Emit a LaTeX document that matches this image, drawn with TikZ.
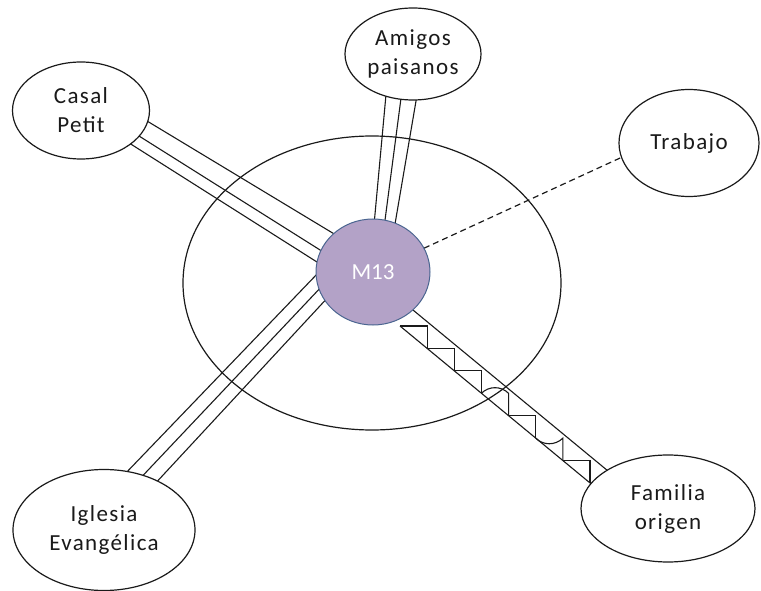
\documentclass[tikz,border=0pt]{standalone}
\usepackage{fontspec}
\setmainfont[LetterSpace=6]{Carlito}
\newfontfamily\egofont{Carlito}
\usetikzlibrary{calc,shapes.geometric}
\pgfdeclarelayer{bg}
\pgfsetlayers{bg,main}
\definecolor{lav}{HTML}{B3A2C7}
\definecolor{lavedge}{HTML}{4A6590}
\definecolor{ink}{HTML}{1A1A1A}
\begin{document}
\begin{tikzpicture}[x=1pt,y=-1pt,
  actor/.style={ellipse, draw=ink, line width=1.2pt, fill=white, inner sep=0pt,
    outer sep=0pt, align=center, text=ink, font=\fontsize{23}{29}\selectfont},
  ego/.style={ellipse, draw=lavedge, line width=1pt, fill=lav, inner sep=0pt,
    outer sep=0pt, text=white, font=\egofont\fontsize{23}{29}\selectfont,
    minimum width=114pt, minimum height=106pt},
  tie/.style={draw=ink, line width=1.1pt},
  weak/.style={draw=ink, line width=1.2pt, dash pattern=on 6pt off 4pt}]
\useasboundingbox (0,0) rectangle (761,591);

% people and places around the person
\node[ego] (m13) at (373,272) {M13};
\node[actor, minimum width=137pt, minimum height=97pt]  (cp) at (81,110.5) {Casal\\Petit};
\node[actor, minimum width=136pt, minimum height=92pt]  (am) at (413,54) {Amigos\\paisanos};
\node[actor, minimum width=140pt, minimum height=107pt] (tr) at (689,143) {Trabajo};
\node[actor, minimum width=174pt, minimum height=107pt] (fo) at (668,508.5) {Familia\\origen};
\node[actor, minimum width=182pt, minimum height=121pt] (ig) at (104,530) {Iglesia\\Evangélica};

\begin{pgfonlayer}{bg}
  % closer circle
  \draw[draw=ink, line width=1.2pt] (372,283) ellipse [x radius=189pt, y radius=147pt];

  % strong ties: three parallel strokes
  \coordinate (cpK) at ($(cp)+(0,-11)$);
  \coordinate (mK1) at ($(m13)+(0,11.3)$);
  \foreach \s/\e in {15.7/22.2, 0/0, -11/-12}
    \draw[tie] ($(cpK)!\s pt!90:(mK1)$) -- ($(mK1)!\e pt!-90:(cpK)$);

  \coordinate (amK) at ($(am)+(-6.2,0)$);
  \coordinate (mK2) at ($(m13)+(5.2,0)$);
  \foreach \s/\e in {-17/-8.5, 0/0, 17/8.5}
    \draw[tie] ($(amK)!\s pt!90:(mK2)$) -- ($(mK2)!\e pt!-90:(amK)$);

  \coordinate (igK) at ($(ig)+(0,-13.3)$);
  \coordinate (mK3) at ($(m13)+(-23,-15.5)$);
  \foreach \s/\e in {14.5/11.6, 0/0, -15/-11.6}
    \draw[tie] ($(igK)!\s pt!90:(mK3)$) -- ($(mK3)!\e pt!-90:(igK)$);

  % weak tie
  \draw[weak] (m13.25) -- (tr.192);

  % conflictive tie: band with a stepped zigzag
  \coordinate (zs) at ($(m13)+(27,54)$);
  \draw[tie] ($(m13)+(0,5)$) -- ($(fo)+(0,12)$);
  \draw[tie] (zs) -- ($(fo)+(-18,24)$);
  \foreach \k in {0,1,2,4,6}
    \draw[tie] ($(zs)+(\k*27.14,\k*22.43)$) -- ++(27.14,0) -- ++(0,22.43);
  \draw[tie] ($(zs)+(3*27.14,3*22.43)$) to[bend left=45] ++(27.14,0) -- ++(0,22.43);
  \draw[tie] ($(zs)+(5*27.14,5*22.43)$) to[bend right=45] ++(27.14,0) -- ++(0,22.43);
\end{pgfonlayer}
\end{tikzpicture}
\end{document}
